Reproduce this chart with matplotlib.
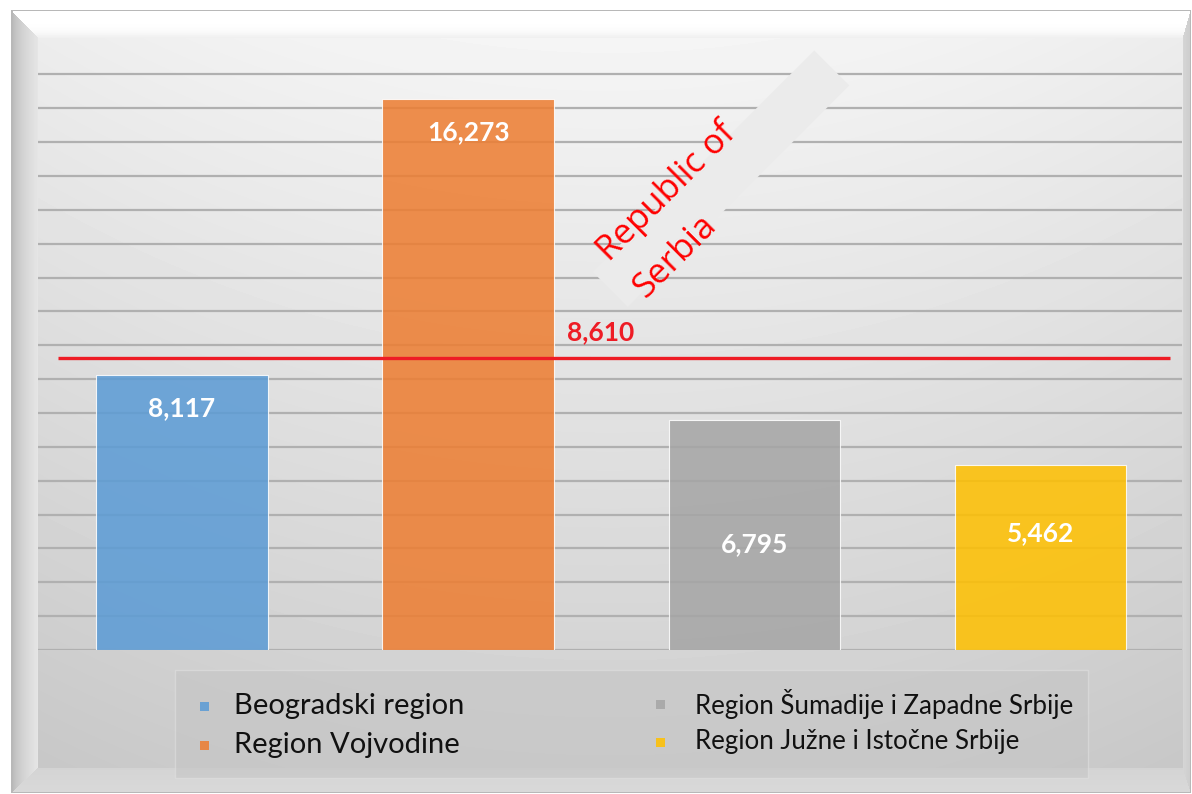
import numpy as np
import matplotlib
matplotlib.use("Agg")
import matplotlib.pyplot as plt
from matplotlib.patches import Polygon, Rectangle
from matplotlib.transforms import IdentityTransform

# ---- data -------------------------------------------------------------
regions = [
    "Beogradski region",
    "Region Vojvodine",
    "Region Šumadije i Zapadne Srbije",
    "Region Južne i Istočne Srbije",
]
values = [8117, 16273, 6795, 5462]
serbia_value = 8610
serbia_name = ["Republic of", "Serbia"]

# ---- styling ----------------------------------------------------------
colors = ["#5B9BD5", "#ED7D31", "#A5A5A5", "#FFC000"]
label_y = [7150, 15300, 3130, 3455]     # heights of the value labels inside the bars
RED = "#ee1c25"

W, H = 1192, 794
fig = plt.figure(figsize=(W / 100, H / 100), dpi=100)
fig.patch.set_facecolor("white")

# ---- bevelled, shaded backdrop -----------------------------------------
bg = fig.add_axes([0, 0, 1, 1])
bg.set_axis_off()
yy, xx = np.mgrid[0:H, 0:W].astype(float)
L, T, R, B = 11, 10, 1190, 792          # outer frame
l, t, r, b = 38, 38, 1182, 767          # inner face
face = 0.96 - 0.15 * np.clip((yy - t) / (b - t), 0, 1)
face *= 1 - 0.035 * ((xx - 610) / 570) ** 2
dt = (yy - T) / (t - T)
dl = (xx - L) / (l - L)
dr = (R - xx) / (R - r)
db = (B - yy) / (B - b)
d = np.stack([dt, dl, dr, db])
side = np.argmin(d, axis=0)
dmin = np.min(d, axis=0)
img = face.copy()
bevel = dmin < 1
top = bevel & (side == 0)
left = bevel & (side == 1)
right = bevel & (side == 2)
bottom = bevel & (side == 3)
img[top] = (1.0 - 0.07 * dt ** 4)[top]
img[left] = (0.68 + 0.22 * np.sqrt(np.clip(dl, 0, 1)))[left]
img[right] = (0.80 + 0.04 * dr)[right]
img[bottom] = (0.85 - 0.02 * db)[bottom]
outside = (xx < L) | (xx > R) | (yy < T) | (yy > B)
img[outside] = 1.0
border = (~outside) & ((np.abs(xx - L) < 1.2) | (np.abs(yy - T) < 1.0)
                       | (np.abs(xx - R) < 1.0) | (np.abs(yy - B) < 1.0))
img[border] = 0.72
bg.imshow(img, cmap="gray", vmin=0, vmax=1, extent=(0, W, H, 0),
          aspect="auto", interpolation="bilinear")
bg.set_xlim(0, W)
bg.set_ylim(H, 0)

# ---- chart ---------------------------------------------------------------
ax = fig.add_axes([38 / W, (H - 650) / H, (1182 - 38) / W, (650 - 40.5) / H])
ax.patch.set_alpha(0)
x = np.arange(len(values))
ax.set_xlim(-0.503, 3.494)
ax.set_ylim(0, 18000)
ax.set_yticks(np.arange(0, 18000, 1000))
ax.yaxis.grid(True, color="#b0b0b0", lw=1.6)
ax.set_axisbelow(True)
ax.tick_params(length=0, labelleft=False, labelbottom=False)
ax.set_xticks([])
for s in ax.spines.values():
    s.set_visible(False)

ax.bar(x, values, width=0.6, color=colors, alpha=0.86,
       edgecolor=(1, 1, 1, 0.55), linewidth=0.8, zorder=2)
for i, v in enumerate(values):
    ax.text(i, label_y[i], f"{v:,}", ha="center", va="center", color="white",
            fontsize=19, fontweight="bold", family="Lato", zorder=5)

# national average line with its label and ribbon
ax.hlines(serbia_value, -0.433, 3.452, color=RED, lw=2.4, zorder=4)
ax.annotate(f"{serbia_value:,}", xy=(1.5, serbia_value), xytext=(-11, 26),
            textcoords="offset pixels", ha="center", va="center", color=RED,
            fontsize=19, fontweight="bold", family="Lato", zorder=6)

fig.canvas.draw()
ax0, ay0 = ax.transData.transform((1.5, serbia_value))
ribbon = [(-18.5, -86.5), (16.5, -51.5), (238, -273), (203, -308)]
ribbon_disp = [(ax0 + dx, ay0 - dy) for dx, dy in ribbon]
ax.add_patch(Polygon(ribbon_disp, closed=True, transform=IdentityTransform(),
                     facecolor="#ebebeb", edgecolor="none", zorder=3,
                     clip_on=False))
for txt, (dx, dy) in zip(serbia_name, [(-9, 103), (28, 66)]):
    ax.annotate(txt, xy=(1.5, serbia_value), xytext=(dx, dy),
                textcoords="offset pixels", rotation=45, rotation_mode="anchor",
                ha="left", va="center", color="#ff0000", fontsize=25,
                family="Open Sans", zorder=6)

# ---- legend -----------------------------------------------------------
def fx(px):
    return px / W


def fy(py):
    return (H - py) / H


fig.add_artist(Rectangle((fx(175), fy(778)), fx(1088) - fx(175), fy(670) - fy(778),
                         transform=fig.transFigure, facecolor="#c4c4c4",
                         alpha=0.55, edgecolor="#e2e2e2", lw=1.0))
legend_pos = [(205, 234, 706, 21, ["Lato"]),
              (205, 234, 745, 21, ["Lato"]),
              (660, 695, 704, 18.6, ["Liberation Sans Narrow", "Lato"]),
              (660, 695, 742, 18.6, ["Liberation Sans Narrow", "Lato"])]
for name, c, (mx, tx, py, fs, fam) in zip(regions, colors, legend_pos):
    fig.add_artist(Rectangle((fx(mx - 4.5), fy(py + 4.5)), 9 / W, 9 / H,
                             transform=fig.transFigure, facecolor=c,
                             alpha=0.86, edgecolor="none"))
    fig.text(fx(tx), fy(py), name, ha="left", va="center", fontsize=fs,
             family=fam, color="#111111")

fig.savefig("out.png", dpi=100)
